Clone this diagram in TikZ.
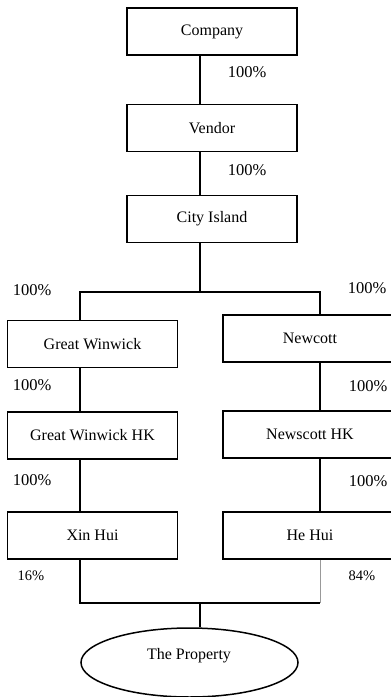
\documentclass[tikz,border=0pt]{standalone}
\usepackage{fontspec}
\setmainfont{Liberation Serif}
\usetikzlibrary{shapes.geometric}
\begin{document}
\begin{tikzpicture}[x=1pt,y=-1pt,
  entity/.style={draw, line width=1.5pt, rectangle, minimum width=170pt, minimum height=47pt, inner sep=0pt, font=\fontsize{16}{18}\selectfont},
  link/.style={line width=1.5pt},
  thinlink/.style={line width=0.5pt, draw=black!40},
  pct/.style={font=\fontsize{16.5}{18}\selectfont, inner sep=0pt},
  spct/.style={font=\fontsize{14.5}{16}\selectfont, inner sep=0pt}]
\useasboundingbox (0,0) rectangle (391,697);
\clip (0,0) rectangle (391,697);
% top chain
\node[entity] (company) at (212,31.5) {Company};
\node[entity] (vendor) at (212,128) {Vendor};
\node[entity] (city) at (212,219) {City Island};
% left column
\node[entity] (gw) at (92.5,344) {Great Winwick};
\node[entity] (gwhk) at (92.5,435.5) {Great Winwick HK};
\node[entity] (xh) at (92.5,535.5) {Xin Hui};
% right column (cut by the page edge)
\node[entity, minimum width=174pt] (nc) at (310,338.5) {Newcott};
\node[entity, minimum width=174pt] (nchk) at (310,434.5) {Newscott HK};
\node[entity, minimum width=174pt] (hh) at (310,535.5) {He Hui};
% property
\node[draw, line width=1.5pt, ellipse, minimum width=217pt, minimum height=69pt, inner sep=0pt, font=\fontsize{16}{18}\selectfont] (prop) at (189.5,662.5) {};
\node[font=\fontsize{16}{18}\selectfont] (proptext) at (189,656) {The Property};
% axis coordinates
\coordinate (cx) at (200,0);
\coordinate (lx) at (80,0);
\coordinate (rx) at (320,0);
\coordinate (split) at (200,292);
\coordinate (join) at (200,603);
% connectors
\draw[link] (company.south -| cx) -- (vendor.north -| cx);
\draw[link] (vendor.south -| cx) -- (city.north -| cx);
\draw[link] (city.south -| cx) -- (split);
\draw[link] (gw.north -| lx) -- (split -| lx) -- (split -| rx) -- (nc.north -| rx);
\draw[link] (gw.south -| lx) -- (gwhk.north -| lx);
\draw[link] (nc.south -| rx) -- (nchk.north -| rx);
\draw[link] (gwhk.south -| lx) -- (xh.north -| lx);
\draw[link] (nchk.south -| rx) -- (hh.north -| rx);
\draw[link] (xh.south -| lx) -- (join -| lx) -- (join -| rx);
\draw[thinlink] (hh.south -| rx) -- (join -| rx);
\draw[link] (join) -- (prop.north -| join);
% labels
\node[pct] (p1) at (247,72) {100\%};
\node[pct] (p2) at (247,170) {100\%};
\node[pct] (p3) at (32,290) {100\%};
\node[pct] (p4) at (367,288) {100\%};
\node[pct] (p5) at (32,385) {100\%};
\node[pct] (p6) at (368,386) {100\%};
\node[pct] (p7) at (32,480) {100\%};
\node[pct] (p8) at (368,481) {100\%};
\node[spct] (p9) at (31,576) {16\%};
\node[spct] (p10) at (362,576) {84\%};
\end{tikzpicture}
\end{document}
